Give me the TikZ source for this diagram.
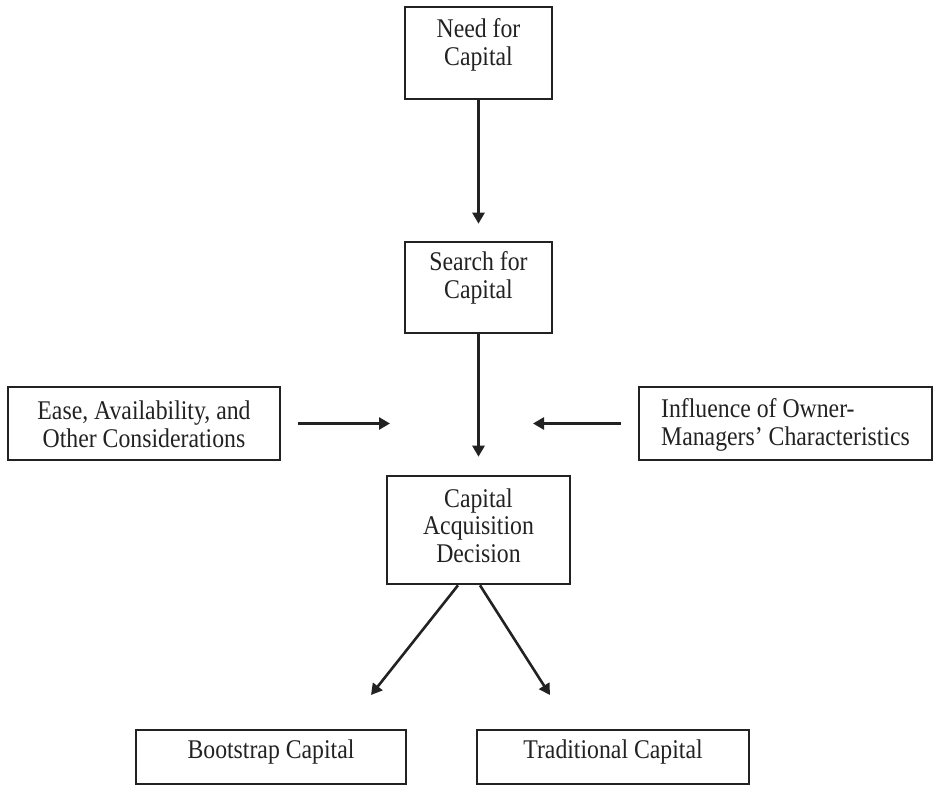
\documentclass[tikz,border=0pt]{standalone}
\usepackage{fontspec}
\setmainfont{Liberation Serif}[FakeStretch=0.88]
\usetikzlibrary{arrows.meta}
\definecolor{ink}{HTML}{222222}
\tikzset{
  box/.style={draw=ink, line width=2.6pt, inner xsep=0pt, inner ysep=0pt, align=center,
    font=\fontsize{27}{27.5}\selectfont, text=ink},
  arr/.style={draw=ink, line width=2.6pt, -{Triangle[length=11pt,width=12pt]}},
}
\begin{document}
\begin{tikzpicture}[x=1pt,y=-1pt]
\useasboundingbox (0,0) rectangle (934,787);
\node[box, minimum width=147pt, text height=58pt, text depth=34pt] (need) at (478.5,53) {Need for\\Capital};
\node[box, minimum width=147pt, text height=56pt, text depth=35pt] (search) at (478.5,287.5) {Search for\\Capital};
\node[box, minimum width=272pt, text height=60pt, text depth=13pt] (ease) at (144,423.5) {Ease, Availability, and\\Other Considerations};
\node[box, minimum width=293pt, text height=58pt, text depth=15pt, align=left] (infl) at (785.5,423.5) {Influence of Owner-\\Managers' Characteristics};
\node[box, minimum width=183pt, text height=86pt, text depth=22pt] (dec) at (478.5,530) {Capital\\Acquisition\\Decision};
\node[box, minimum width=270pt, text height=28pt, text depth=26pt] (boot) at (271,757) {Bootstrap Capital};
\node[box, minimum width=272pt, text height=28pt, text depth=26pt] (trad) at (613,757) {Traditional Capital};
\coordinate (mL) at (390,423.5);
\coordinate (mR) at (533,423.5);
\coordinate (tipL) at (371,695);
\coordinate (tipR) at (550,695);
\draw[arr, shorten >=17pt] (need) -- (search);
\draw[arr, shorten >=18pt] (search) -- (dec);
\draw[arr, shorten <=17pt] (ease) -- (mL);
\draw[arr, shorten <=17pt] (infl) -- (mR);
\draw[arr] ([xshift=-20.5pt]dec.south) -- (tipL);
\draw[arr] ([xshift=1.5pt]dec.south) -- (tipR);
\end{tikzpicture}
\end{document}
